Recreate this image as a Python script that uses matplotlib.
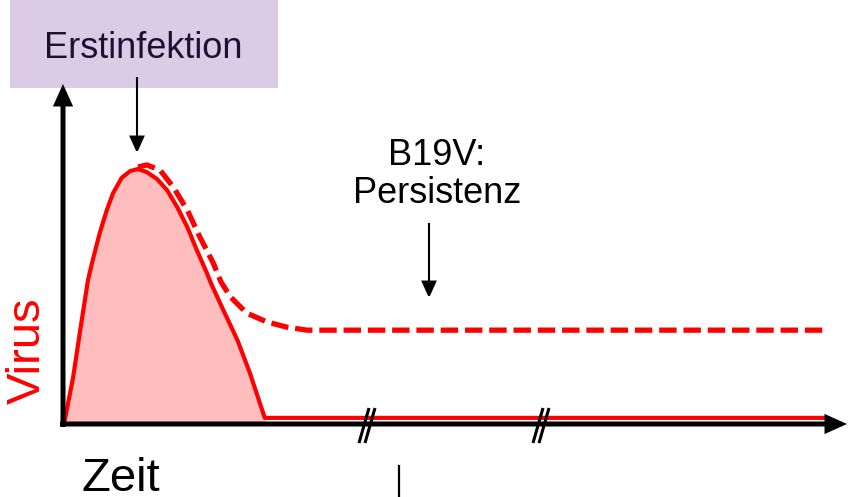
import matplotlib
matplotlib.use("Agg")
import matplotlib.pyplot as plt
from matplotlib.patches import FancyArrowPatch, Rectangle

plt.rcParams["font.family"] = ["Liberation Sans", "DejaVu Sans"]

# Schematic course of virus load (time / virus in arbitrary units 0..100)
time_acute = [0.2, 1.3, 2.2, 3.2, 3.8, 4.7, 5.6, 6.4, 7.5, 8.6, 9.6, 10.7, 12.0,
              13.3, 14.6, 15.9, 17.1, 18.4, 18.9, 20.5, 22.3, 23.9, 25.8, 97.4]
virus_acute = [0.8, 13.8, 27.6, 42.4, 48.2, 56.2, 62.9, 67.9, 72.4, 74.4, 75.0, 74.1, 72.1,
               68.8, 63.8, 57.9, 51.2, 44.4, 41.5, 33.5, 24.7, 15.0, 1.8, 1.8]
time_persist = [9.6, 10.7, 12.4, 14.1, 15.9, 17.5, 19.2, 20.2, 21.4, 23.5, 26.1, 28.6, 31.2, 97.6]
virus_persist = [75.6, 76.2, 74.7, 69.7, 62.9, 55.0, 47.4, 41.8, 37.4, 32.6, 30.0, 28.5, 27.6, 27.6]
fill_end = 22  # acute phase area ends where the curve returns to baseline

label_first = "Erstinfektion"
label_persist = "B19V:\nPersistenz"
label_x = "Zeit"
label_y = "Virus"

RED = "#ff0000"
PINK = "#ffbdbd"
BOX = "#dccbe5"

W, H = 853, 497
fig = plt.figure(figsize=(W / 100, H / 100), dpi=100)

# data axes: origin at pixel (63, 424), x arrow tip at 845, y arrow tip at 84
ax = fig.add_axes([63 / W, (H - 424) / H, (845 - 63) / W, (424 - 84) / H])
ax.set_xlim(0, 100)
ax.set_ylim(0, 100)
ax.axis("off")

ax.fill_between(time_acute[:fill_end + 1], virus_acute[:fill_end + 1], 0,
                color=PINK, lw=0, zorder=1)
ax.plot(time_acute, virus_acute, color=RED, lw=3.0, solid_joinstyle="round",
        zorder=3, clip_on=False)
ax.plot(time_persist, virus_persist, color=RED, lw=3.8, dashes=(3.3, 1.3),
        dash_capstyle="butt", dash_joinstyle="round", zorder=3, clip_on=False)

# overlay in pixel coordinates for annotations
ov = fig.add_axes([0, 0, 1, 1], zorder=5)
ov.set_xlim(0, W)
ov.set_ylim(H, 0)
ov.axis("off")
ov.patch.set_alpha(0)


def arrow(p0, p1, lw, hl, hw):
    a = FancyArrowPatch(p0, p1, transform=ov.transData,
                        arrowstyle=f"-|>,head_length={hl},head_width={hw}",
                        mutation_scale=1, lw=lw, color="black",
                        shrinkA=0, shrinkB=0, joinstyle="miter", capstyle="butt")
    ov.add_patch(a)


ov.add_patch(Rectangle((10, -2), 268, 90, facecolor=BOX, edgecolor="none", zorder=0))

# axes arrows
arrow((63, 427), (63, 84), 3.6, 10, 4.5)
arrow((60, 424), (847, 424), 3.6, 10, 4.5)

# break marks on the time axis
for x in (367, 541):
    for dx in (-3, 3):
        ov.plot([x + dx - 5, x + dx + 5], [443, 408], color="black", lw=2.2,
                solid_capstyle="butt")

# annotation arrows
arrow((137, 77), (137, 153), 1.5, 10, 4.5)
arrow((429, 223), (429, 298), 1.5, 10, 4.5)

ov.plot([399, 399], [466, 497], color="black", lw=1.6)

ov.text(143, 58, label_first, ha="center", va="baseline", fontsize=26,
        color="#1e1030")
ov.text(437, 203, label_persist, ha="center", va="baseline", fontsize=26,
        color="black", linespacing=1.1, multialignment="center")
ov.text(121, 491, label_x, ha="center", va="baseline", fontsize=34, color="black")
ov.text(28, 351, label_y, ha="center", va="center", rotation=90, fontsize=34,
        color=RED)

fig.savefig("out.png", dpi=100)
